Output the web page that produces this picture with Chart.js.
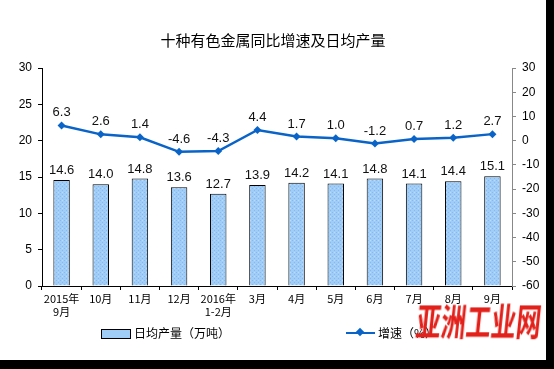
<!DOCTYPE html>
<html>
<head>
<meta charset="utf-8">
<script src="https://cdn.jsdelivr.net/npm/chart.js@4.4.1/dist/chart.umd.min.js"></script>
<style>
    html, body { margin: 0; padding: 0; background: #000; }
    #wrap { position: relative; width: 546px; height: 360px; background: #fff; overflow: hidden; }
    #title { position: absolute; left: 0; width: 546px; top: 30px; text-align: center;
             font: 15px "Noto Sans CJK SC", sans-serif; color: #000; line-height: 20px; }
    .legend { position: absolute; top: 324px; font: 12px "Noto Sans CJK SC", sans-serif; color: #000;
              line-height: 18px; }
    .box { position: absolute; left: 101px; top: 329px; width: 28px; height: 8px;
           background: #9fcdf8; border: 1px solid #000; }
    .ln { position: absolute; left: 346px; top: 332px; width: 29px; height: 2px; background: #0a64c8; }
    .dot { position: absolute; left: 357px; top: 329px; width: 6px; height: 6px; background: #0a64c8;
           transform: rotate(45deg); }
    #mark { position: absolute; left: 419px; top: 296px; font: bold 25px "Noto Sans CJK SC", sans-serif;
            color: #e3211b; letter-spacing: 0px; white-space: nowrap; line-height: 30px;
            transform: skewX(-6deg) scaleY(1.5); transform-origin: left top; }
</style>
</head>
<body>
<div id="wrap">
    <canvas id="chart" width="546" height="360"></canvas>
    <div id="title">十种有色金属同比增速及日均产量</div>
    <div class="box"></div>
    <div class="legend" style="left:134px">日均产量（万吨）</div>
    <div class="ln"></div><div class="dot"></div>
    <div class="legend" style="left:378px">增速（%）</div>
    <div id="mark">亚洲工业网</div>
</div>
<script>
// categories (multi-line where the source wraps)
const months = [['2015年', '9月'], '10月', '11月', '12月', ['2016年', '1-2月'], '3月', '4月', '5月', '6月', '7月', '8月', '9月'];
// daily output, 10k tonnes
const dailyOutput = [14.6, 14.0, 14.8, 13.6, 12.7, 13.9, 14.2, 14.1, 14.8, 14.1, 14.4, 15.1];
// year-on-year growth, %
const growth = [6.3, 2.6, 1.4, -4.6, -4.3, 4.4, 1.7, 1.0, -1.2, 0.7, 1.2, 2.7];
const leftTicks = [0, 5, 10, 15, 20, 25, 30];
const rightTicks = [-60, -50, -40, -30, -20, -10, 0, 10, 20, 30];

const numFont = { family: '"Liberation Sans", Arial, sans-serif', size: 12 };

// light blue fill with a faint dot texture, like the source bars
function barPattern() {
    const c = document.createElement('canvas');
    c.width = 4; c.height = 4;
    const g = c.getContext('2d');
    g.fillStyle = '#9fcdf8';
    g.fillRect(0, 0, 4, 4);
    g.fillStyle = '#86b9ee';
    g.fillRect(0, 0, 1, 1);
    g.fillRect(2, 2, 1, 1);
    g.fillStyle = '#b8dcfc';
    g.fillRect(2, 0, 1, 1);
    return g.createPattern(c, 'repeat');
}

/**
 * Writes the value above every bar and every line point.
 */
const valueLabels = {
    id: 'valueLabels',
    afterDatasetsDraw(chart) {
        const ctx = chart.ctx;
        ctx.save();
        ctx.font = '13px "Liberation Sans", Arial, sans-serif';
        ctx.fillStyle = '#111';
        ctx.textAlign = 'center';
        ctx.textBaseline = 'bottom';
        chart.getDatasetMeta(0).data.forEach((el, i) => {
            ctx.fillText(dailyOutput[i].toFixed(1), el.x, el.y - 3);
        });
        chart.getDatasetMeta(1).data.forEach((el, i) => {
            ctx.fillText(growth[i].toFixed(1), el.x, el.y - 6);
        });
        ctx.restore();
    }
};

const ctx = document.getElementById('chart').getContext('2d');
new Chart(ctx, {
    data: {
        labels: months,
        datasets: [{
            type: 'bar',
            label: '日均产量（万吨）',
            data: dailyOutput,
            yAxisID: 'y',
            backgroundColor: barPattern(),
            borderColor: '#000',
            borderWidth: 1,
            barPercentage: 0.42,
            categoryPercentage: 1,
            order: 2
        }, {
            type: 'line',
            label: '增速（%）',
            data: growth,
            yAxisID: 'y1',
            borderColor: '#0a64c8',
            backgroundColor: '#0a64c8',
            borderWidth: 2.5,
            pointStyle: 'rectRot',
            pointRadius: 4,
            pointBorderWidth: 0,
            tension: 0,
            order: 1
        }]
    },
    options: {
        responsive: false,
        animation: false,
        layout: { padding: { top: 68, left: 0, right: 0, bottom: 0 } },
        plugins: { legend: { display: false }, tooltip: { enabled: false } },
        scales: {
            x: {
                grid: { offset: true, drawOnChartArea: false, drawTicks: true, tickLength: 4, color: '#000' },
                border: { color: '#000' },
                ticks: { color: '#000', font: { family: '"Noto Sans CJK SC", sans-serif', size: 11 },
                         padding: 2, maxRotation: 0, autoSkip: false },
                afterFit(s) { s.height = 74; }
            },
            y: {
                position: 'left',
                min: 0, max: 30,
                afterBuildTicks(s) { s.ticks = leftTicks.map(v => ({ value: v })); },
                grid: { drawOnChartArea: false, tickLength: 4, color: '#000' },
                border: { color: '#000' },
                ticks: { color: '#000', font: numFont, padding: 6 },
                afterFit(s) { s.width = 42; }
            },
            y1: {
                position: 'right',
                min: -60, max: 30,
                afterBuildTicks(s) { s.ticks = rightTicks.map(v => ({ value: v })); },
                grid: { drawOnChartArea: false, tickLength: 4, color: '#888' },
                border: { color: '#888' },
                ticks: { color: '#000', font: numFont, padding: 6 },
                afterFit(s) { s.width = 34; }
            }
        }
    },
    plugins: [valueLabels]
});
</script>
</body>
</html>
